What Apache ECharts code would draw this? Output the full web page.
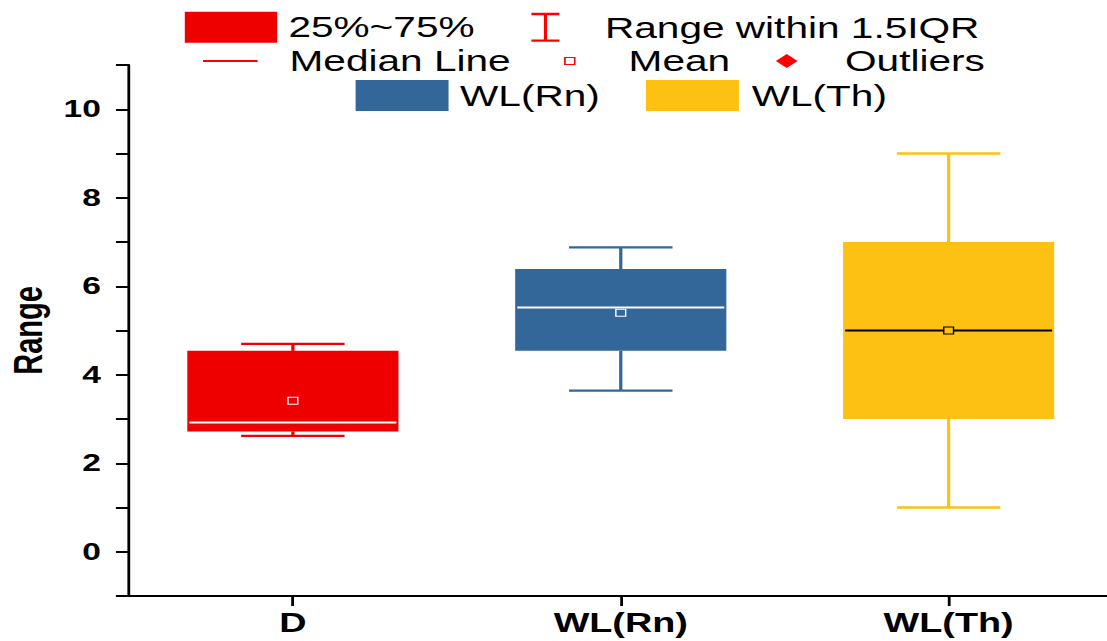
<!DOCTYPE html>
<html>
<head>
<meta charset="utf-8">
<script src="https://cdn.jsdelivr.net/npm/echarts@6/dist/echarts.min.js"></script>
<style>
  html, body { margin: 0; padding: 0; background: #fff; width: 1107px; height: 641px; overflow: hidden; }
  /* the chart is laid out on a narrower canvas and widened horizontally */
  #chart { width: 791px; height: 641px; transform: scaleX(1.4); transform-origin: 0 0; }
</style>
</head>
<body>
<div id="chart"></div>
<script>
// Box statistics per group
const categories  = ['D', 'WL(Rn)', 'WL(Th)'];
const whiskerLow  = [2.62, 3.64, 1];
const q1          = [2.72, 4.54, 3];
const median      = [2.92, 5.52, 5];
const q3          = [4.54, 6.39, 7];
const whiskerHigh = [4.70, 6.88, 9];
const mean        = [3.41, 5.40, 5];

// y axis labels that are printed
const yTickLabels = [0, 2, 4, 6, 8, 10];

// legend entries
const legendNames = ['25%~75%', 'Range within 1.5IQR', 'Median Line', 'Mean', 'Outliers', 'WL(Rn)', 'WL(Th)'];

const boxColors    = ['#EE0000', '#336699', '#FDC114'];
const medianColors = ['#FFFFFF', '#FFFFFF', '#000000'];
const legendRed = '#FF0000';

const FONT = "'Liberation Sans', Arial, sans-serif";

function renderBox(params, api) {
  const i = api.value(0);
  const x = api.coord([i, 0])[0];
  const band = api.size([1, 0])[0];
  const hw = band * 0.322;      // half box width
  const cw = hw * 0.49;         // half whisker-cap width
  const y = v => api.coord([i, v])[1];
  const lo = api.value(1), b1 = api.value(2), md = api.value(3), b3 = api.value(4), hi = api.value(5), mn = api.value(6);
  const color = boxColors[i];
  const mc = medianColors[i];
  const lw = 2.3;
  return {
    type: 'group',
    children: [
      { type: 'line', shape: { x1: x, y1: y(lo), x2: x, y2: y(b1) }, style: { stroke: color, lineWidth: lw } },
      { type: 'line', shape: { x1: x, y1: y(b3), x2: x, y2: y(hi) }, style: { stroke: color, lineWidth: lw } },
      { type: 'line', shape: { x1: x - cw, y1: y(lo), x2: x + cw, y2: y(lo) }, style: { stroke: color, lineWidth: lw } },
      { type: 'line', shape: { x1: x - cw, y1: y(hi), x2: x + cw, y2: y(hi) }, style: { stroke: color, lineWidth: lw } },
      { type: 'rect', shape: { x: x - hw, y: y(b3), width: 2 * hw, height: y(b1) - y(b3) }, style: { fill: color } },
      { type: 'line', shape: { x1: x - hw + 1.5, y1: y(md), x2: x + hw - 1.5, y2: y(md) }, style: { stroke: mc, lineWidth: 2 } },
      { type: 'rect', shape: { x: x - 3.5, y: y(mn) - 3.5, width: 7, height: 7 }, style: { fill: color, stroke: mc, lineWidth: 1 } }
    ]
  };
}

const boxSeries = categories.map((name, i) => ({
  type: 'custom',
  name: name,
  renderItem: renderBox,
  encode: { x: 0, y: [1, 2, 3, 4, 5, 6] },
  itemStyle: { color: boxColors[i], opacity: 1 },
  data: [[i, whiskerLow[i], q1[i], median[i], q3[i], whiskerHigh[i], mean[i]]],
  z: 3
}));

// series that exist only to carry legend entries
const legendOnly = legendNames.slice(0, 5).map(name => ({
  type: 'scatter', name: name, itemStyle: { color: legendRed, opacity: 1 }, data: []
}));

const legendText = { color: '#000', fontFamily: FONT, fontSize: 29, lineHeight: 31 };
function legendItem(name, icon, style, left, top, w, h, pad) {
  return {
    left: left, top: top, padding: 0, itemWidth: w, itemHeight: h,
    selectedMode: false,
    textStyle: Object.assign({}, legendText, { padding: [0, 0, 0, pad] }),
    data: [{ name: name, icon: icon, itemStyle: Object.assign({ opacity: 1 }, style) }]
  };
}

const iBarIcon = 'path://M0,0H20V2.4H11.1V26.6H20V29H0V26.6H8.9V2.4H0Z';

const option = {
  backgroundColor: '#fff',
  animation: false,
  grid: { left: 92.1, top: 65, width: 702.6, height: 531, containLabel: false, outerBoundsMode: 'none' },
  legend: [
    legendItem(legendNames[0], 'rect', { color: boxColors[0], borderWidth: 0 }, 132, 11.7, 66, 31, 3),
    legendItem(legendNames[1], iBarIcon, { color: legendRed, borderWidth: 0 }, 379.6, 11.8, 20, 29, 27.5),
    legendItem(legendNames[2], 'rect', { color: legendRed, borderWidth: 0 }, 145, 45.5, 39, 2, 17.8),
    legendItem(legendNames[3], 'rect', { color: '#fff', borderColor: legendRed, borderWidth: 1.2 }, 402.9, 45.5, 7, 7, 33.5),
    legendItem(legendNames[4], 'diamond', { color: legendRed, borderWidth: 0 }, 554.2, 45.5, 15.5, 14, 28.9),
    legendItem(legendNames[5], 'rect', { color: boxColors[1], borderWidth: 0 }, 254, 80, 66.4, 31, 3.2),
    legendItem(legendNames[6], 'rect', { color: boxColors[2], borderWidth: 0 }, 461.4, 80, 66.4, 31, 4.1)
  ],
  xAxis: {
    type: 'category',
    data: categories,
    boundaryGap: true,
    axisLine: { show: true, onZero: false, lineStyle: { color: '#000', width: 2 } },
    axisTick: { show: true, alignWithLabel: true, length: 10, lineStyle: { color: '#000', width: 2 } },
    axisLabel: { color: '#000', fontFamily: FONT, fontWeight: 'bold', fontSize: 27, margin: 13 },
    splitLine: { show: false }
  },
  yAxis: {
    type: 'value',
    min: -1,
    max: 11,
    interval: 1,
    name: 'Range',
    nameLocation: 'middle',
    nameGap: 56,
    nameTextStyle: { color: '#000', fontFamily: FONT, fontWeight: 'bold', fontSize: 29 },
    axisLine: { show: true, lineStyle: { color: '#000', width: 2 } },
    axisTick: { show: true, length: 9.3, lineStyle: { color: '#000', width: 2 } },
    axisLabel: {
      color: '#000', fontFamily: FONT, fontWeight: 'bold', fontSize: 24, margin: 20,
      formatter: v => (yTickLabels.indexOf(v) >= 0 ? String(v) : '')
    },
    splitLine: { show: false }
  },
  series: boxSeries.concat(legendOnly)
};

const chart = echarts.init(document.getElementById('chart'), null, { renderer: 'svg' });
chart.setOption(option);
</script>
</body>
</html>
